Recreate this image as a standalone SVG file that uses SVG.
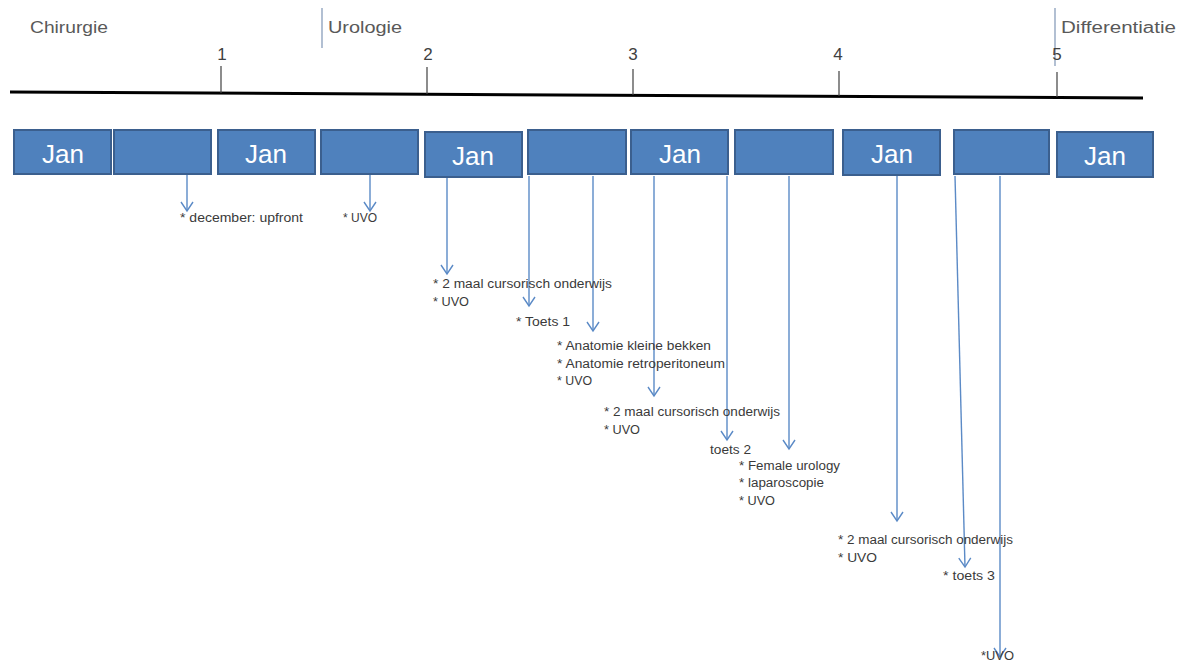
<svg xmlns="http://www.w3.org/2000/svg" width="1189" height="664" viewBox="0 0 1189 664">
  <style>
    .phase { font-family: "Liberation Sans", Arial, sans-serif; font-size: 16px; fill: #595959; }
    .year { font-family: "Liberation Sans", Arial, sans-serif; font-size: 17px; fill: #404040; text-anchor: middle; }
    .box { fill: #4f81bd; stroke: #3b5f8e; stroke-width: 2; }
    .jan { font-family: "Liberation Sans", Arial, sans-serif; font-size: 25px; fill: #ffffff; text-anchor: middle; }
    .note { font-family: "Liberation Sans", Arial, sans-serif; font-size: 12px; fill: #3a3a3a; }
    .conn { stroke: #5b8ac6; stroke-width: 1.4; fill: none; marker-end: url(#vhead); }
    .tick { stroke: #404040; stroke-width: 1.2; }
    .divider { stroke: #7f95b5; stroke-width: 1.2; }
  </style>
  <defs>
    <!-- open V head, drawn pointing along +x so orient="auto" turns it with the line -->
    <marker id="vhead" viewBox="0 0 13 14" refX="11" refY="7" markerWidth="13" markerHeight="14" markerUnits="userSpaceOnUse" orient="auto">
      <path d="M2,1 L11,7 L2,13" fill="none" stroke="#5b8ac6" stroke-width="1.4"/>
    </marker>
  </defs>
  <rect width="1189" height="664" fill="#ffffff"/>

  <!-- phase headings -->
  <g id="phases">
    <text class="phase" x="30" y="33" textLength="78" lengthAdjust="spacingAndGlyphs">Chirurgie</text>
    <line class="divider" x1="322" y1="8" x2="322" y2="48"/>
    <text class="phase" x="328" y="33" textLength="74" lengthAdjust="spacingAndGlyphs">Urologie</text>
    <line class="divider" x1="1055" y1="8" x2="1055" y2="66"/>
    <text class="phase" x="1061" y="33" textLength="115" lengthAdjust="spacingAndGlyphs">Differentiatie</text>
  </g>

  <!-- time axis with year ticks -->
  <g id="axis">
    <line x1="10" y1="92" x2="1143" y2="98" stroke="#000" stroke-width="3"/>
    <line class="tick" x1="221" y1="66" x2="221" y2="93"/>
    <text class="year" x="222" y="60">1</text>
    <line class="tick" x1="427" y1="67" x2="427" y2="94"/>
    <text class="year" x="428" y="60">2</text>
    <line class="tick" x1="633" y1="69" x2="633" y2="95"/>
    <text class="year" x="633" y="60">3</text>
    <line class="tick" x1="839" y1="71" x2="839" y2="96"/>
    <text class="year" x="838" y="60">4</text>
    <line class="tick" x1="1057" y1="72" x2="1057" y2="97"/>
    <text class="year" x="1057" y="60">5</text>
  </g>

  <!-- half-year blocks -->
  <g id="block1"><rect class="box" x="14" y="130" width="97" height="44"/><text class="jan" x="63" y="163" textLength="42" lengthAdjust="spacingAndGlyphs">Jan</text></g>
  <g id="block2"><rect class="box" x="114" y="130" width="97" height="44"/></g>
  <g id="block3"><rect class="box" x="218" y="130" width="97" height="44"/><text class="jan" x="266" y="163" textLength="42" lengthAdjust="spacingAndGlyphs">Jan</text></g>
  <g id="block4"><rect class="box" x="321" y="130" width="97" height="44"/></g>
  <g id="block5"><rect class="box" x="425" y="132" width="97" height="45"/><text class="jan" x="473" y="165" textLength="42" lengthAdjust="spacingAndGlyphs">Jan</text></g>
  <g id="block6"><rect class="box" x="528" y="130" width="98" height="44"/></g>
  <g id="block7"><rect class="box" x="631" y="130" width="97" height="44"/><text class="jan" x="680" y="163" textLength="42" lengthAdjust="spacingAndGlyphs">Jan</text></g>
  <g id="block8"><rect class="box" x="735" y="130" width="98" height="44"/></g>
  <g id="block9"><rect class="box" x="843" y="130" width="97" height="45"/><text class="jan" x="892" y="163" textLength="42" lengthAdjust="spacingAndGlyphs">Jan</text></g>
  <g id="block10"><rect class="box" x="954" y="130" width="95" height="44"/></g>
  <g id="block11"><rect class="box" x="1057" y="132" width="96" height="45"/><text class="jan" x="1105" y="165" textLength="42" lengthAdjust="spacingAndGlyphs">Jan</text></g>

  <!-- connectors from blocks to activities -->
  <g id="connectors">
    <line class="conn" x1="187" y1="175" x2="187" y2="211"/>
    <line class="conn" x1="370" y1="175" x2="370" y2="211"/>
    <line class="conn" x1="447" y1="178" x2="447" y2="274"/>
    <line class="conn" x1="529" y1="176" x2="529" y2="306"/>
    <line class="conn" x1="593" y1="176" x2="593" y2="331"/>
    <line class="conn" x1="654" y1="176" x2="654" y2="396"/>
    <line class="conn" x1="727" y1="176" x2="727" y2="440"/>
    <line class="conn" x1="789" y1="176" x2="789" y2="449"/>
    <line class="conn" x1="897" y1="176" x2="897" y2="521"/>
    <line class="conn" x1="955" y1="176" x2="965" y2="567"/>
    <line class="conn" x1="1000" y1="176" x2="1000" y2="657"/>
  </g>

  <!-- activity notes -->
  <g id="note1"><text class="note" x="180" y="222" textLength="123" lengthAdjust="spacingAndGlyphs">* december: upfront</text></g>
  <g id="note2"><text class="note" x="343" y="222" textLength="34" lengthAdjust="spacingAndGlyphs">* UVO</text></g>
  <g id="note3">
    <text class="note" x="433" y="288" textLength="179" lengthAdjust="spacingAndGlyphs">* 2 maal cursorisch onderwijs</text>
    <text class="note" x="433" y="306" textLength="36" lengthAdjust="spacingAndGlyphs">* UVO</text>
  </g>
  <g id="note4"><text class="note" x="516" y="326" textLength="54" lengthAdjust="spacingAndGlyphs">* Toets 1</text></g>
  <g id="note5">
    <text class="note" x="557" y="350" textLength="154" lengthAdjust="spacingAndGlyphs">* Anatomie kleine bekken</text>
    <text class="note" x="557" y="368" textLength="168" lengthAdjust="spacingAndGlyphs">* Anatomie retroperitoneum</text>
    <text class="note" x="557" y="385" textLength="35" lengthAdjust="spacingAndGlyphs">* UVO</text>
  </g>
  <g id="note6">
    <text class="note" x="604" y="416" textLength="176" lengthAdjust="spacingAndGlyphs">* 2 maal cursorisch onderwijs</text>
    <text class="note" x="604" y="434" textLength="36" lengthAdjust="spacingAndGlyphs">* UVO</text>
  </g>
  <g id="note7"><text class="note" x="710" y="454" textLength="41" lengthAdjust="spacingAndGlyphs">toets 2</text></g>
  <g id="note8">
    <text class="note" x="739" y="470" textLength="101" lengthAdjust="spacingAndGlyphs">* Female urology</text>
    <text class="note" x="739" y="487" textLength="85" lengthAdjust="spacingAndGlyphs">* laparoscopie</text>
    <text class="note" x="739" y="505" textLength="36" lengthAdjust="spacingAndGlyphs">* UVO</text>
  </g>
  <g id="note9">
    <text class="note" x="838" y="544" textLength="175" lengthAdjust="spacingAndGlyphs">* 2 maal cursorisch onderwijs</text>
    <text class="note" x="838" y="562" textLength="39" lengthAdjust="spacingAndGlyphs">*  UVO</text>
  </g>
  <g id="note10"><text class="note" x="943" y="580" textLength="52" lengthAdjust="spacingAndGlyphs">* toets 3</text></g>
  <g id="note11"><text class="note" x="981" y="660" textLength="33" lengthAdjust="spacingAndGlyphs">*UVO</text></g>
</svg>
